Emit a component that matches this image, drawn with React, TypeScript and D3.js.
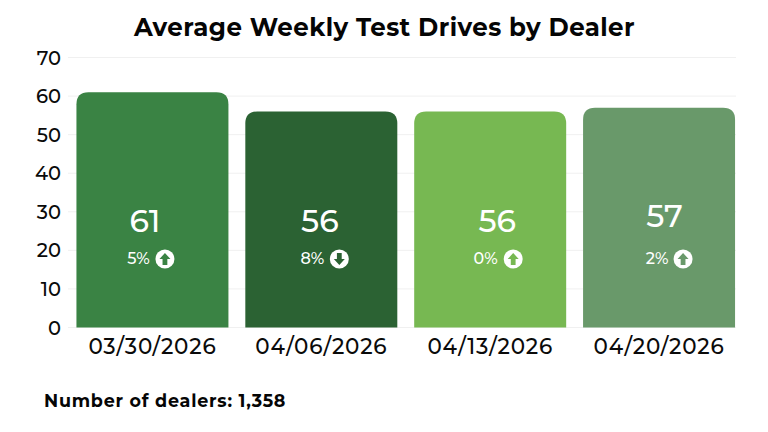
import React from "react";
import * as d3 from "d3";

const categories = ["03/30/2026", "04/06/2026", "04/13/2026", "04/20/2026"];
const values = [61, 56, 56, 57];
const changes = ["5%", "8%", "0%", "2%"];
const directions = ["up", "down", "up", "up"];
const colors = ["#3a8344", "#2b6233", "#77b852", "#69996a"];
const ticks = [0, 10, 20, 30, 40, 50, 60, 70];
const title = "Average Weekly Test Drives by Dealer";
const footnote = "Number of dealers: 1,358";

const font = "Montserrat, Inter, 'Noto Sans', sans-serif";

function topRound(x: number, y: number, w: number, h: number, r: number) {
  const p = d3.path();
  p.moveTo(x, y + h);
  p.lineTo(x, y + r);
  p.quadraticCurveTo(x, y, x + r, y);
  p.lineTo(x + w - r, y);
  p.quadraticCurveTo(x + w, y, x + w, y + r);
  p.lineTo(x + w, y + h);
  p.closePath();
  return p.toString();
}

function Arrow({ cx, cy, dir }: { cx: number; cy: number; dir: string }) {
  const s = dir === "up" ? 1 : -1;
  const pts: [number, number][] = [[0, -6], [5.5, 0], [2.4, 0], [2.4, 6], [-2.4, 6], [-2.4, 0], [-5.5, 0]];
  const line = d3.line()(pts.map(([a, b]) => [cx + a, cy + s * b] as [number, number])) + "Z";
  return (
    <g>
      <circle cx={cx} cy={cy} r={9.5} fill="#fff" />
      <path d={line} fill="currentColor" />
    </g>
  );
}

// Label placement inside each bar, relative to the bar centre.
const numberDx = [-7.5, -1.5, 7, 5.5];
const numberY = [231, 231, 231, 226];
const pctDx = [-14, -9, -4.5, -2];
const arrowDx = [12.5, 18, 23, 24];

export default function App() {
  const y = d3.scaleLinear().domain([0, 70]).range([327.5, 57.5]);
  const x = d3.scaleBand().domain(categories).range([68, 743.5]).paddingInner(0.1).paddingOuter(0.05);
  return (
    <svg width={768} height={432} style={{ position: "fixed", left: 0, top: 0, background: "#fff" }} fontFamily={font}>
      <text x={384.5} y={36} textAnchor="middle" fontSize={24.5} fontWeight={700} letterSpacing={0.45} fill="#050505">{title}</text>
      {ticks.map((t) => (
        <g key={t}>
          <line x1={68} x2={736} y1={y(t)} y2={y(t)} stroke="#f0f0f0" />
          <text x={61} y={y(t) + 7} textAnchor="end" fontSize={19.5} fontWeight={500} fill="#0a0a0a">{t}</text>
        </g>
      ))}
      {categories.map((c, i) => {
        const bx = x(c)!;
        const bw = x.bandwidth();
        const cx = bx + bw / 2;
        const top = y(values[i]);
        return (
          <g key={c} color={colors[i]}>
            <path d={topRound(bx, top, bw, y(0) - top, 12)} fill={colors[i]} />
            <text x={cx + numberDx[i]} y={numberY[i] + 0.5} textAnchor="middle" fontSize={31.5} fontWeight={500} fill="#fff">{values[i]}</text>
            <text x={cx + pctDx[i]} y={263.5} textAnchor="middle" fontSize={16} fontWeight={500} fill="#fff">{changes[i]}</text>
            <Arrow cx={cx + arrowDx[i]} cy={259} dir={directions[i]} />
            <text x={cx} y={354} textAnchor="middle" fontSize={21.5} fontWeight={500} letterSpacing={0.8} fill="#0a0a0a">{c}</text>
          </g>
        );
      })}
      <text x={44} y={407} fontSize={17.5} fontWeight={700} letterSpacing={0.78} fill="#050505">{footnote}</text>
    </svg>
  );
}
